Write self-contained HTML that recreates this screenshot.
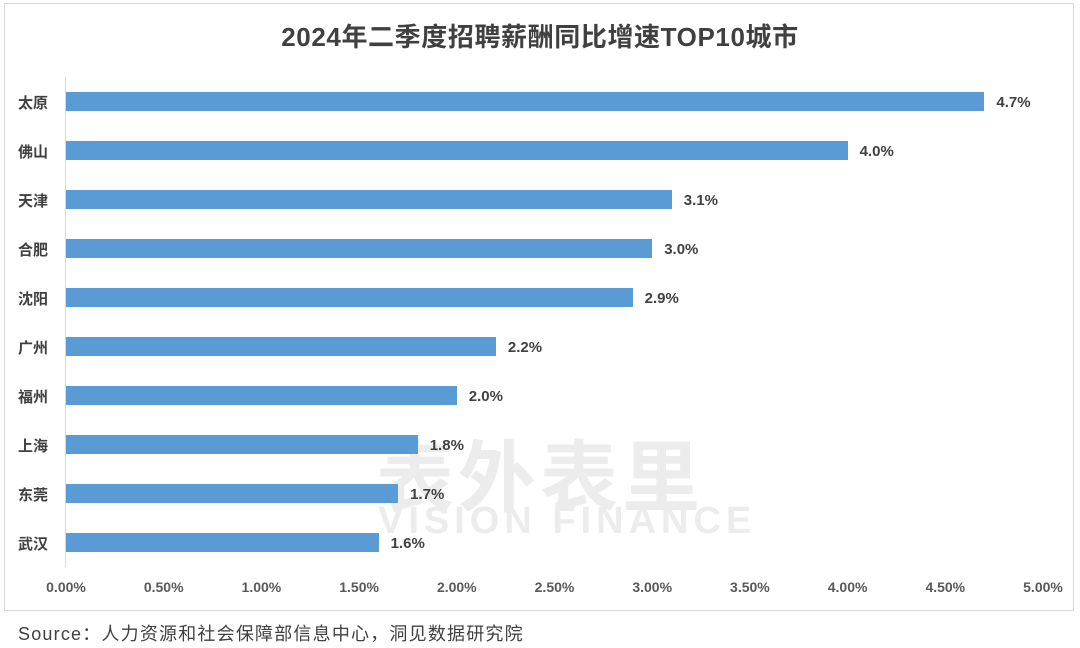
<!DOCTYPE html>
<html><head><meta charset="utf-8"><style>
body{margin:0;width:1080px;height:648px;background:#fff;font-family:"Liberation Sans","Noto Sans CJK SC",sans-serif;position:relative;overflow:hidden}
.box{position:absolute;left:4px;top:3px;width:1070px;height:608px;border:1px solid #d9d9d9;box-sizing:border-box}
.t{position:absolute;top:17px;left:0;width:1080px;text-align:center;font-size:26px;font-weight:bold;color:#404040;letter-spacing:0.6px}
.axis{position:absolute;left:65px;top:77px;width:1px;height:490px;background:#d9d9d9}
.bar{position:absolute;left:66px;height:19px;background:#5b9bd5}
.lab{position:absolute;left:18px;font-size:15px;font-weight:bold;color:#404040;width:40px}
.val{position:absolute;font-size:15px;font-weight:bold;color:#404040}
.tk{position:absolute;top:579px;font-size:14px;color:#595959;width:80px;text-align:center;font-weight:bold}
.src{position:absolute;left:18px;top:620px;font-size:18px;color:#404040;letter-spacing:1.2px}
.wm{position:absolute;color:#ececec;font-weight:bold}
</style></head><body>
<div class="box"></div>
<div class="wm" style="left:376px;top:416px;font-size:78px;letter-spacing:4px">表外表里</div>
<div class="wm" style="left:378px;top:500px;font-size:38px;letter-spacing:5px">VISION FINANCE</div>
<div class="t">2024年二季度招聘薪酬同比增速TOP10城市</div>
<div class="axis"></div>
<div id="c"></div>
<div class="src">Source：人力资源和社会保障部信息中心，洞见数据研究院</div>
<script>
var d=[["太原",4.7],["佛山",4.0],["天津",3.1],["合肥",3.0],["沈阳",2.9],["广州",2.2],["福州",2.0],["上海",1.8],["东莞",1.7],["武汉",1.6]];
var h="";
d.forEach(function(r,i){var y=92+49*i;var w=r[1]*195.4;
h+='<div class="bar" style="top:'+y+'px;width:'+w+'px"></div>';
h+='<div class="lab" style="top:'+(y)+'px">'+r[0]+'</div>';
h+='<div class="val" style="top:'+(y+2)+'px;left:'+(66+w+12)+'px">'+r[1].toFixed(1)+'%</div>';});
for(var k=0;k<=10;k++){var x=66+k*97.7;h+='<div class="tk" style="left:'+(x-40)+'px">'+(k*0.5).toFixed(2)+'%</div>';}
document.getElementById("c").innerHTML=h;
</script>
</body></html>
